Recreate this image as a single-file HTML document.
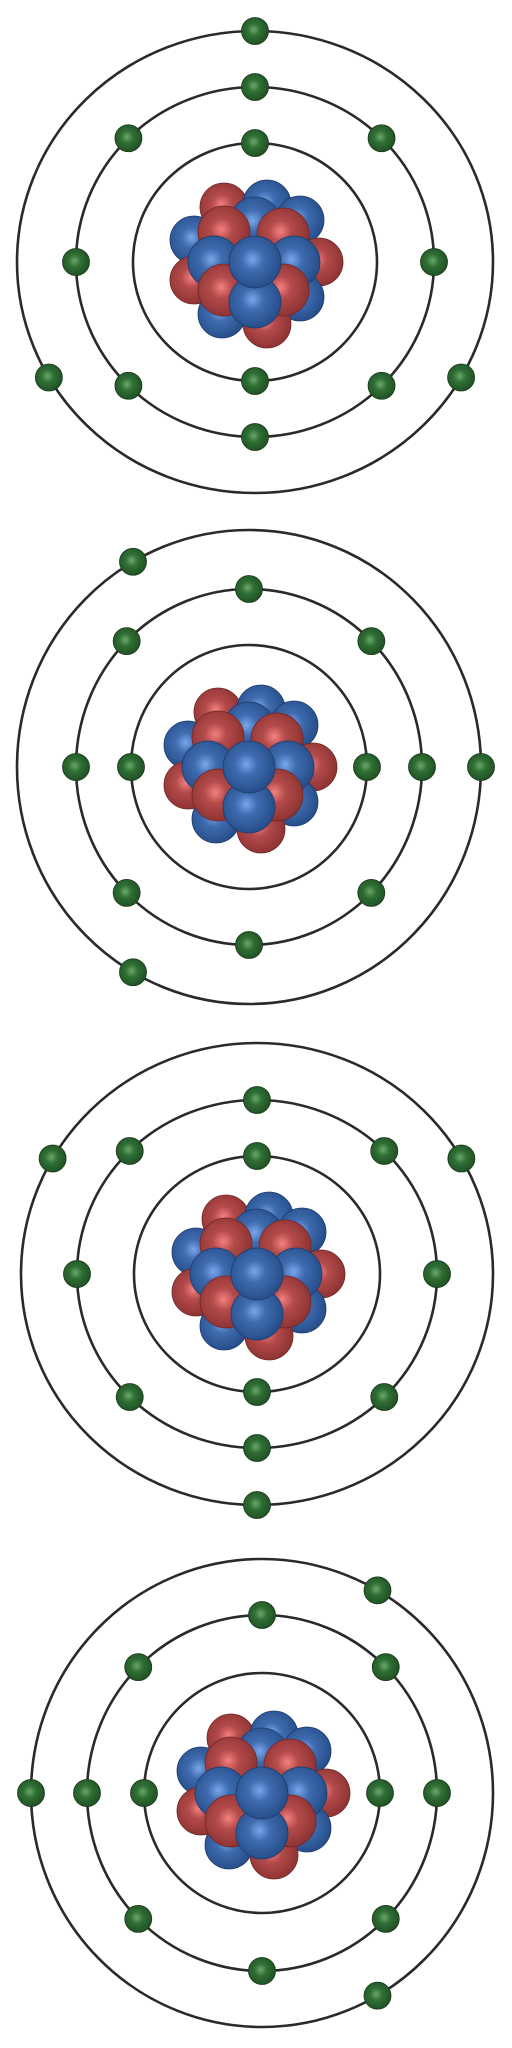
<!DOCTYPE html>
<html><head><meta charset="utf-8">
<style>html,body{margin:0;padding:0;background:#fff;}svg{display:block;}</style>
</head><body>
<svg id="chart" width="512" height="2048" viewBox="0 0 512 2048" xmlns="http://www.w3.org/2000/svg">
<defs>
<radialGradient id="gB" cx="0.45" cy="0.45" r="0.6"><stop offset="0" stop-color="#7aa6ea"/><stop offset="0.35" stop-color="#3f6cb0"/><stop offset="1" stop-color="#234a85"/></radialGradient>
<radialGradient id="gR" cx="0.45" cy="0.45" r="0.6"><stop offset="0" stop-color="#f58080"/><stop offset="0.35" stop-color="#b44b4b"/><stop offset="1" stop-color="#8a3030"/></radialGradient>
<radialGradient id="gG" cx="0.45" cy="0.45" r="0.6"><stop offset="0" stop-color="#6aa86a"/><stop offset="0.4" stop-color="#2f6e34"/><stop offset="1" stop-color="#1e4e22"/></radialGradient>
</defs>
</svg>
<script>
// atom centres and orbit radii [rx, ry] (inner, middle, outer)
const atomCenters = [[255,262],[249,767],[257,1274],[262,1793]];
const innerOrbits = [[122,119],[118,122],[123,118],[118,120]];
const middleOrbits = [[179,175],[173,178],[180,174],[175,178]];
const outerOrbits = [[238,231],[232,237],[236,231],[231,234]];
// electron angles in degrees (math convention, counter-clockwise from +x)
const innerElectrons = [[90,270],[0,180],[90,270],[0,180]];
const middleElectrons = [[0,45,90,135,180,225,270,315],[0,45,90,135,180,225,270,315],[0,45,90,135,180,225,270,315],[0,45,90,135,180,225,270,315]];
const outerElectrons = [[90,210,330],[0,120,240],[30,150,270],[60,180,300]];
// nucleus: back layer and front layer offsets, type 'b' blue / 'r' red
const nucleusBack = [[-31,-55,'r'],[12,-58,'b'],[45,-42,'b'],[64,0,'r'],[-61,-22,'b'],[-61,18,'r'],[45,35,'b'],[-33,52,'b'],[12,62,'r']];
const nucleusFront = [[0,-39,'b'],[-31,-30,'r'],[28,-28,'r'],[-41,0,'b'],[39,0,'b'],[-31,28,'r'],[28,28,'r'],[0,40,'b']];
const nucleusCore = [[0,0,'b']];

const svg = document.getElementById('chart');
const NS = 'http://www.w3.org/2000/svg';
function mk(tag, attrs){const e=document.createElementNS(NS,tag);for(const k in attrs)e.setAttribute(k,attrs[k]);return e;}
function pos(c, r, a){const t=a*Math.PI/180;return [c[0]+r[0]*Math.cos(t), c[1]-r[1]*Math.sin(t)];}

atomCenters.forEach((c, i) => {
  const g = mk('g', {});
  
  
  svg.appendChild(g);
  const orbits = [innerOrbits[i], middleOrbits[i], outerOrbits[i]];
  const elecs = [innerElectrons[i], middleElectrons[i], outerElectrons[i]];
  const names = ['inner','middle','outer'];
  orbits.forEach((r, k) => {
    const e = mk('ellipse', {cx:c[0], cy:c[1], rx:r[0], ry:r[1], fill:'none', stroke:'#2a2a2a', 'stroke-width':2.6});
    
    
    g.appendChild(e);
  });
  orbits.forEach((r, k) => {
    elecs[k].forEach(a => {
      const p = pos(c, r, a);
      const e = mk('circle', {cx:p[0], cy:p[1], r:13.5, fill:'url(#gG)', stroke:'#1a3a1c', 'stroke-width':0.8});
      
      
      g.appendChild(e);
    });
  });
  const n = mk('g', {});
  
  
  g.appendChild(n);
  const layers = [[nucleusBack,24],[nucleusFront,26],[nucleusCore,26]];
  layers.forEach(([arr, rad]) => {
    arr.forEach(s => {
      const e = mk('circle', {cx:c[0]+s[0], cy:c[1]+s[1], r:rad, fill: s[2]==='b'?'url(#gB)':'url(#gR)', stroke: s[2]==='b'?'#1d3b6a':'#6e2626', 'stroke-width':0.8});
      
      
      n.appendChild(e);
    });
  });
});
</script>
</body></html>
